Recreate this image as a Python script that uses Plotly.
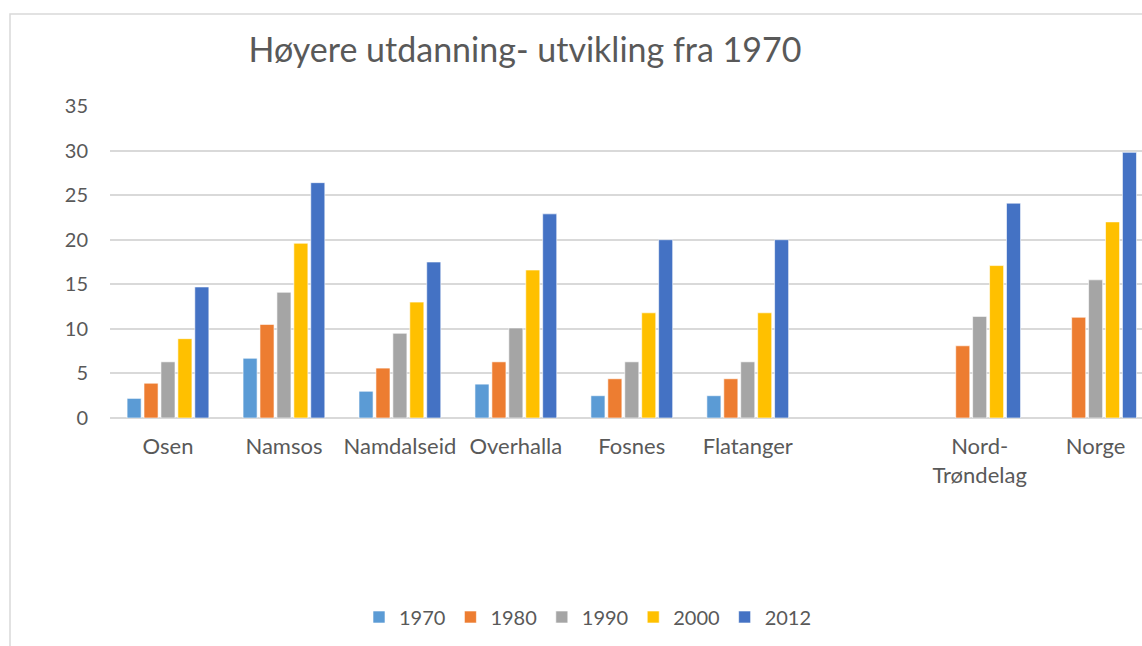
import plotly.graph_objects as go

categories = ["Osen", "Namsos", "Namdalseid", "Overhalla", "Fosnes", "Flatanger", " ", "Nord-<br>Trøndelag", "Norge"]
years = ["1970", "1980", "1990", "2000", "2012"]
v1970 = [2.2, 6.7, 3.0, 3.8, 2.5, 2.5, None, None, None]
v1980 = [3.9, 10.5, 5.6, 6.3, 4.4, 4.4, None, 8.1, 11.3]
v1990 = [6.3, 14.1, 9.5, 10.1, 6.3, 6.3, None, 11.4, 15.5]
v2000 = [8.9, 19.6, 13.0, 16.6, 11.8, 11.8, None, 17.1, 22.0]
v2012 = [14.7, 26.4, 17.5, 22.9, 20.0, 20.0, None, 24.1, 29.8]
series = [v1970, v1980, v1990, v2000, v2012]
colors = ["#5B9BD5", "#ED7D31", "#A5A5A5", "#FFC000", "#4472C4"]

FONT = "Lato, Noto Sans, sans-serif"
TXT = "#595959"

fig = go.Figure()
for name, vals, col in zip(years, series, colors):
    fig.add_trace(go.Bar(x=categories, y=vals, name=name,
                         marker=dict(color=col, line=dict(color="white", width=0.6))))

W, H = 1142, 646
L, R, T, B = 110, 0, 106, 228
pw, ph = W - L - R, H - T - B

def px_x(p):
    return (p - L) / pw

def px_y(p):
    return (H - B - p) / ph

fig.update_layout(
    width=W, height=H,
    margin=dict(l=L, r=R, t=T, b=B),
    paper_bgcolor="white", plot_bgcolor="white",
    font=dict(family=FONT, color=TXT, size=20),
    title=dict(text="Høyere utdanning- utvikling fra 1970", x=525 / W, xanchor="center",
               y=1 - 50 / H, yanchor="middle", font=dict(size=34, color=TXT, family=FONT)),
    barmode="group", bargap=0.27, bargroupgap=0.17,
    showlegend=True,
    legend=dict(orientation="h", x=px_x(588), xanchor="center", y=px_y(617), yanchor="middle",
                font=dict(size=20, color=TXT), itemwidth=30, traceorder="normal"),
    xaxis=dict(type="category", range=[-0.5, 8.4], showgrid=False, showline=False,
               ticks="", tickfont=dict(size=22, color=TXT), ticklabelstandoff=13),
    yaxis=dict(range=[0, 35], dtick=5, showgrid=True, gridcolor="#D9D9D9", gridwidth=1.5,
               zeroline=True, zerolinecolor="#D9D9D9", zerolinewidth=1.5, showline=False,
               ticks="", tickfont=dict(size=20, color=TXT), ticklabelstandoff=21),
    shapes=[dict(type="rect", xref="paper", yref="paper",
                 x0=px_x(10), x1=px_x(1160), y0=px_y(660), y1=px_y(14),
                 line=dict(color="#D9D9D9", width=1.5), fillcolor="rgba(0,0,0,0)", layer="below")],
)

fig.write_html("out.html", config={"displayModeBar": False},
               post_script="document.body.style.margin='0';document.body.style.overflow='hidden';")
